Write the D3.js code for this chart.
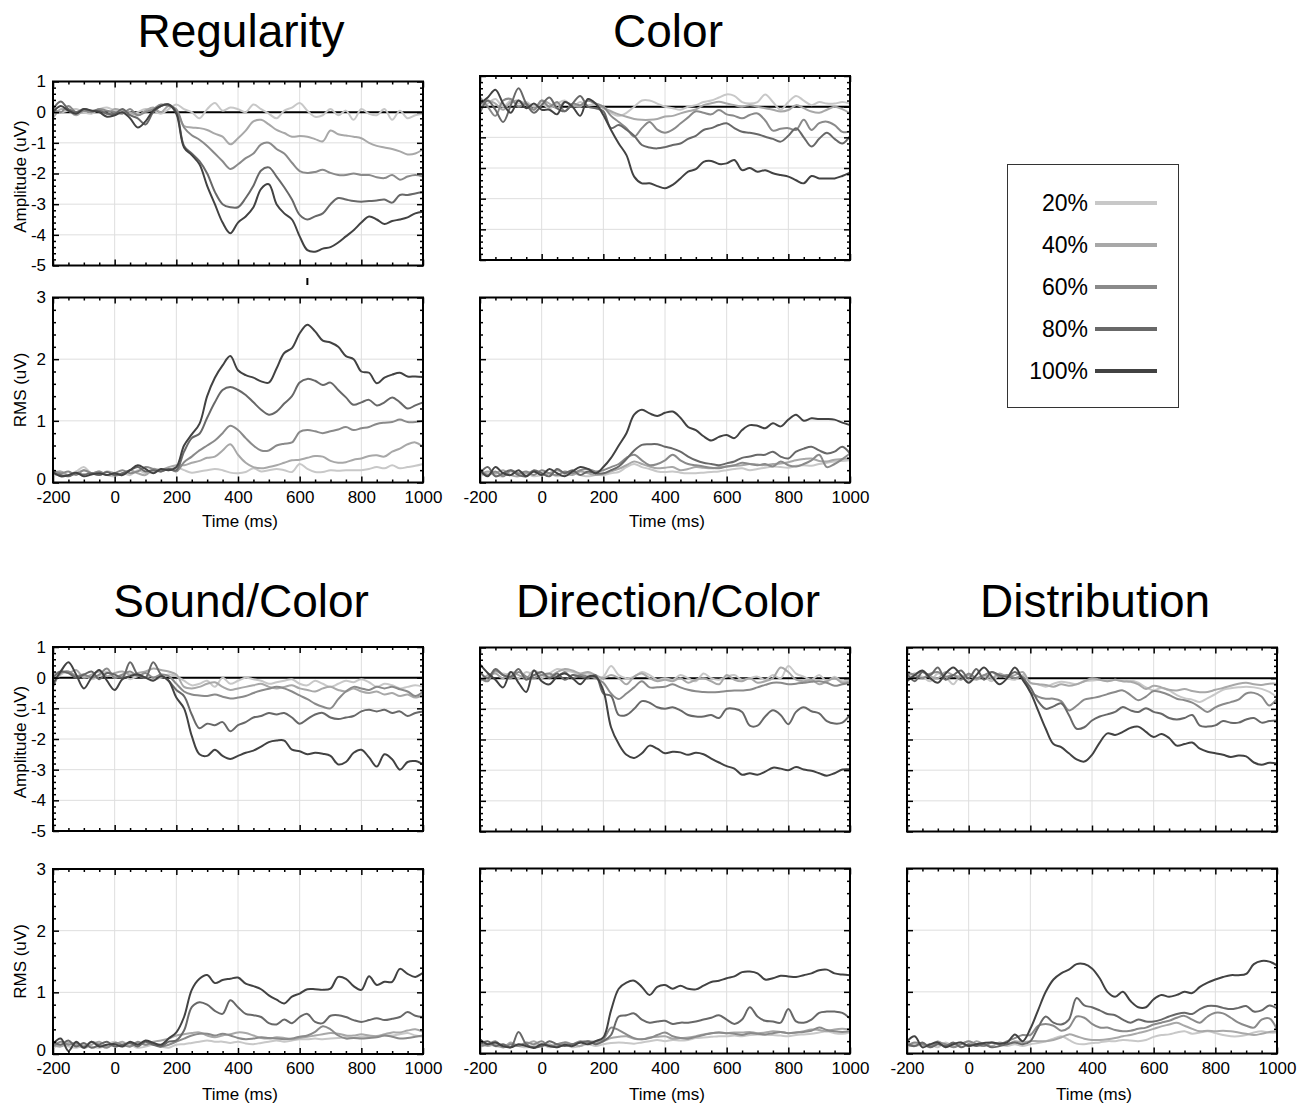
<!DOCTYPE html>
<html>
<head>
<meta charset="utf-8">
<script src="https://cdn.jsdelivr.net/npm/d3@7"></script>
<style>
body { margin: 0; background: #fff; }
svg { font-family: "Liberation Sans", Arial, sans-serif; }
</style>
</head>
<body>
<script>
// sample grid (ms) and labels
var times = d3.range(-200, 1001, 25);
var levels = ["20%", "40%", "60%", "80%", "100%"];
var colors = ["#c8c8c8", "#a8a8a8", "#8a8a8a", "#686868", "#424242"];
var xTicks = [-200, 0, 200, 400, 600, 800, 1000];
var ampTicks = [1, 0, -1, -2, -3, -4, -5];
var rmsTicks = [0, 1, 2, 3];

// ---- Regularity ----
var regAmp20 = [0.1, 0.0, 0.05, 0.1, 0.0, -0.05, 0.1, 0.15, 0.05, 0.0, -0.1, 0.0, 0.1, 0.05, -0.05, 0.1, 0.25,
  0.1, 0.0, -0.2, 0.1, 0.3, 0.05, 0.15, 0.1, 0.0, 0.25, 0.1, -0.05, -0.2, 0.05, 0.15, 0.3,
  0.05, -0.15, -0.1, 0.1, -0.1, 0.05, -0.25, 0.1, -0.05, -0.1, 0.1, -0.25, 0.05, -0.2, -0.1, -0.05];
var regAmp40 = [-0.2, 0.1, 0.05, -0.1, 0.05, 0.0, 0.1, -0.05, 0.1, 0.05, 0.0, -0.1, 0.05, 0.15, 0.0, 0.2, 0.05,
  -0.45, -0.5, -0.52, -0.58, -0.7, -0.8, -1.05, -0.85, -0.6, -0.3, -0.25, -0.4, -0.58, -0.68, -0.8, -0.78,
  -0.8, -0.88, -0.95, -0.6, -0.72, -0.76, -0.8, -0.85, -1.0, -1.1, -1.15, -1.2, -1.28, -1.38, -1.35, -1.2];
var regAmp60 = [0.1, 0.0, 0.2, 0.0, 0.05, 0.0, 0.1, 0.05, 0.0, -0.05, 0.1, -0.1, 0.0, 0.1, 0.25, 0.2, 0.1,
  -0.5, -0.75, -0.9, -1.1, -1.35, -1.6, -1.85, -1.7, -1.5, -1.35, -1.05, -1.0, -1.2, -1.35, -1.65, -1.92,
  -1.98, -1.95, -1.88, -1.98, -2.05, -2.05, -2.0, -2.05, -2.05, -2.12, -2.15, -2.05, -2.2, -2.1, -2.05, -2.1];
var regAmp80 = [0.1, 0.35, 0.1, 0.0, 0.1, 0.05, 0.05, -0.05, -0.05, 0.1, -0.1, -0.2, -0.4, 0.0, 0.2, 0.25, 0.0,
  -1.1, -1.35, -1.6, -2.0, -2.6, -3.0, -3.1, -3.1, -2.8, -2.4, -1.9, -1.8, -2.1, -2.45, -2.85, -3.35,
  -3.5, -3.4, -3.3, -3.0, -2.8, -2.85, -2.9, -2.92, -2.9, -2.88, -2.85, -2.95, -2.7, -2.7, -2.65, -2.6];
var regAmp100 = [0.0, 0.2, 0.05, -0.05, 0.1, 0.05, 0.0, -0.15, -0.1, 0.0, -0.2, -0.5, -0.3, 0.05, 0.2, 0.25, -0.05,
  -1.15, -1.4, -1.7, -2.4, -3.0, -3.6, -3.95, -3.6, -3.4, -3.1, -2.5, -2.35, -3.0, -3.3, -3.5, -4.05,
  -4.5, -4.55, -4.45, -4.4, -4.25, -4.05, -3.85, -3.6, -3.4, -3.5, -3.65, -3.55, -3.5, -3.43, -3.3, -3.25];

var regRms20 = [0.1, 0.15, 0.12, 0.18, 0.25, 0.15, 0.18, 0.12, 0.1, 0.15, 0.12, 0.2, 0.15, 0.18, 0.22, 0.2, 0.25,
  0.2, 0.16, 0.18, 0.2, 0.22, 0.2, 0.16, 0.15, 0.17, 0.23, 0.18, 0.2, 0.22, 0.2, 0.17, 0.3,
  0.22, 0.17, 0.17, 0.2, 0.19, 0.2, 0.2, 0.2, 0.22, 0.25, 0.23, 0.28, 0.23, 0.25, 0.27, 0.3];
var regRms40 = [0.15, 0.18, 0.12, 0.15, 0.2, 0.15, 0.12, 0.18, 0.15, 0.12, 0.2, 0.15, 0.12, 0.22, 0.2, 0.25, 0.28,
  0.28, 0.32, 0.35, 0.4, 0.42, 0.52, 0.62, 0.45, 0.32, 0.25, 0.23, 0.25, 0.28, 0.32, 0.36, 0.37,
  0.4, 0.43, 0.42, 0.35, 0.32, 0.33, 0.37, 0.39, 0.43, 0.44, 0.42, 0.5, 0.55, 0.62, 0.65, 0.58];
var regRms60 = [0.2, 0.15, 0.18, 0.12, 0.2, 0.15, 0.18, 0.12, 0.15, 0.2, 0.15, 0.18, 0.25, 0.22, 0.18, 0.22, 0.18,
  0.33, 0.42, 0.52, 0.6, 0.68, 0.8, 0.92, 0.85, 0.72, 0.6, 0.52, 0.52, 0.6, 0.63, 0.65, 0.82,
  0.85, 0.83, 0.8, 0.83, 0.86, 0.9, 0.85, 0.88, 0.9, 0.95, 0.97, 0.98, 1.02, 0.98, 0.98, 1.0];
var regRms80 = [0.15, 0.12, 0.1, 0.15, 0.13, 0.15, 0.12, 0.17, 0.12, 0.15, 0.2, 0.25, 0.18, 0.2, 0.18, 0.22, 0.2,
  0.5, 0.72, 0.79, 1.05, 1.3, 1.5, 1.55, 1.5, 1.42, 1.3, 1.18, 1.1, 1.15, 1.28, 1.4, 1.62,
  1.68, 1.65, 1.58, 1.62, 1.5, 1.38, 1.26, 1.3, 1.34, 1.25, 1.3, 1.38, 1.3, 1.2, 1.25, 1.3];
var regRms100 = [0.17, 0.1, 0.12, 0.16, 0.1, 0.13, 0.15, 0.12, 0.15, 0.12, 0.2, 0.28, 0.22, 0.15, 0.22, 0.2, 0.25,
  0.6, 0.78, 0.95, 1.4, 1.7, 1.9, 2.05, 1.82, 1.74, 1.7, 1.64, 1.62, 1.85, 2.1, 2.18, 2.42,
  2.56, 2.45, 2.3, 2.27, 2.2, 2.05, 2.0, 1.8, 1.78, 1.61, 1.7, 1.75, 1.78, 1.72, 1.72, 1.71];

// ---- Color ----
var colAmp20 = [-0.1, 0.1, 0.25, 0.0, 0.2, 0.1, 0.15, 0.0, 0.1, -0.05, 0.1, 0.2, 0.0, 0.15, 0.05, 0.1, 0.0,
  -0.2, -0.3, -0.2, 0.0, 0.2, 0.2, 0.1, 0.0, -0.05, -0.1, 0.0, 0.05, 0.15, 0.2, 0.3, 0.4,
  0.35, 0.15, 0.1, 0.15, 0.4, 0.15, -0.1, 0.15, 0.35, 0.2, 0.05, 0.15, 0.1, 0.1, 0.15, 0.1];
var colAmp40 = [0.0, 0.2, 0.1, -0.1, 0.15, 0.2, 0.05, -0.1, 0.2, 0.1, -0.05, 0.15, 0.05, 0.0, 0.2, 0.1, -0.05,
  -0.15, -0.25, -0.33, -0.4, -0.43, -0.43, -0.4, -0.32, -0.3, -0.22, -0.15, -0.09, 0.05, 0.11, 0.16, 0.1,
  0.05, 0.0, 0.05, 0.0, -0.05, -0.1, -0.16, -0.11, 0.05, -0.05, -0.16, -0.2, -0.1, 0.0, -0.08, -0.22];
var colAmp60 = [0.3, 0.0, -0.3, 0.2, 0.25, 0.0, 0.1, -0.1, 0.2, 0.0, 0.15, -0.15, 0.1, 0.05, 0.2, 0.1, 0.0,
  -0.3, -0.5, -0.7, -0.98, -0.7, -0.5, -0.75, -0.85, -0.75, -0.55, -0.35, -0.15, -0.2, -0.25, -0.11, -0.25,
  -0.3, -0.38, -0.27, -0.22, -0.45, -0.78, -0.72, -0.7, -0.76, -0.43, -0.76, -0.54, -0.49, -0.6, -0.82, -0.82];
var colAmp80 = [-0.2, 0.2, -0.1, -0.5, 0.05, 0.6, 0.1, -0.2, 0.05, 0.3, -0.05, -0.15, 0.1, 0.35, 0.0, -0.05, -0.15,
  -0.7, -0.6, -0.75, -0.95, -1.25, -1.33, -1.36, -1.32, -1.25, -1.2, -1.05, -0.95, -0.76, -0.7, -0.6, -0.54,
  -0.7, -0.82, -0.85, -0.9, -0.98, -1.05, -1.14, -0.95, -0.7, -1.0, -1.3, -1.05, -0.85, -1.05, -1.2, -0.96];
var colAmp100 = [0.1, 0.3, 0.55, 0.1, -0.2, 0.2, -0.05, 0.1, -0.1, -0.1, -0.25, 0.15, 0.0, -0.3, 0.25, 0.1, -0.27,
  -0.76, -1.2, -1.58, -2.28, -2.5, -2.5, -2.59, -2.66, -2.55, -2.34, -2.12, -2.04, -1.8, -1.77, -1.87, -1.85,
  -1.74, -2.07, -2.0, -2.12, -2.07, -2.17, -2.23, -2.28, -2.4, -2.5, -2.26, -2.34, -2.34, -2.34, -2.26, -2.15];

var colRms20 = [0.1, 0.15, 0.12, 0.1, 0.18, 0.12, 0.15, 0.1, 0.12, 0.15, 0.1, 0.12, 0.15, 0.12, 0.1, 0.12, 0.12,
  0.15, 0.17, 0.25, 0.3, 0.25, 0.22, 0.18, 0.17, 0.18, 0.16, 0.15, 0.15, 0.16, 0.17, 0.18, 0.2,
  0.22, 0.23, 0.2, 0.22, 0.24, 0.26, 0.25, 0.24, 0.27, 0.28, 0.27, 0.3, 0.32, 0.34, 0.35, 0.36];
var colRms40 = [0.12, 0.18, 0.15, 0.2, 0.12, 0.1, 0.15, 0.18, 0.12, 0.15, 0.2, 0.15, 0.12, 0.18, 0.15, 0.12, 0.14,
  0.18, 0.22, 0.28, 0.34, 0.3, 0.26, 0.23, 0.24, 0.25, 0.2, 0.22, 0.25, 0.24, 0.23, 0.25, 0.26,
  0.27, 0.28, 0.3, 0.29, 0.28, 0.3, 0.31, 0.33, 0.36, 0.38, 0.39, 0.35, 0.34, 0.37, 0.38, 0.39];
var colRms60 = [0.22, 0.12, 0.18, 0.1, 0.2, 0.15, 0.18, 0.12, 0.2, 0.15, 0.12, 0.18, 0.15, 0.2, 0.22, 0.18, 0.2,
  0.25, 0.3, 0.4, 0.45, 0.36, 0.28, 0.3, 0.36, 0.45, 0.36, 0.3, 0.28, 0.26, 0.24, 0.23, 0.26,
  0.28, 0.32, 0.3, 0.28, 0.3, 0.26, 0.34, 0.28, 0.26, 0.3, 0.36, 0.45, 0.25, 0.3, 0.38, 0.47];
var colRms80 = [0.15, 0.25, 0.1, 0.15, 0.2, 0.12, 0.1, 0.2, 0.15, 0.1, 0.22, 0.15, 0.2, 0.12, 0.18, 0.15, 0.15,
  0.2, 0.26, 0.38, 0.52, 0.61, 0.62, 0.62, 0.58, 0.55, 0.5, 0.42, 0.36, 0.32, 0.3, 0.28, 0.31,
  0.34, 0.4, 0.42, 0.45, 0.45, 0.5, 0.42, 0.39, 0.5, 0.55, 0.58, 0.52, 0.47, 0.5, 0.58, 0.47];
var colRms100 = [0.2, 0.1, 0.25, 0.15, 0.12, 0.2, 0.1, 0.18, 0.12, 0.22, 0.15, 0.1, 0.18, 0.25, 0.22, 0.15, 0.25,
  0.4, 0.6, 0.8, 1.1, 1.18, 1.12, 1.08, 1.13, 1.15, 1.05, 0.9, 0.85, 0.75, 0.68, 0.74, 0.77,
  0.72, 0.85, 0.93, 0.92, 0.88, 0.96, 0.91, 1.02, 1.1, 1.0, 1.04, 1.03, 1.03, 1.02, 0.97, 0.93];

// ---- Sound/Color ----
var scAmp20 = [-0.2, 0.1, 0.2, 0.05, 0.1, -0.05, 0.05, 0.2, 0.0, 0.1, -0.05, 0.05, 0.0, -0.05, 0.0, 0.1, 0.05,
  -0.1, -0.25, -0.2, -0.1, -0.3, 0.0, -0.2, -0.1, 0.0, -0.05, -0.1, -0.2, -0.15, -0.1, -0.05, -0.2,
  -0.25, -0.1, -0.2, -0.3, -0.2, -0.1, -0.15, -0.05, -0.15, -0.3, -0.2, -0.25, -0.35, -0.3, -0.25, -0.3];
var scAmp40 = [0.1, 0.2, 0.15, 0.25, 0.0, 0.1, 0.2, 0.05, 0.15, 0.2, 0.1, 0.15, 0.2, 0.3, 0.25, 0.2, 0.1,
  -0.3, -0.35, -0.3, -0.2, -0.15, -0.3, -0.4, -0.35, -0.3, -0.25, -0.2, -0.3, -0.35, -0.3, -0.25, -0.35,
  -0.4, -0.45, -0.35, -0.3, -0.4, -0.45, -0.35, -0.45, -0.5, -0.45, -0.55, -0.5, -0.6, -0.55, -0.65, -0.55];
var scAmp60 = [-0.3, 0.15, 0.2, 0.05, 0.1, 0.0, 0.1, 0.3, 0.0, 0.1, 0.2, 0.05, 0.15, 0.0, 0.1, 0.05, -0.2,
  -0.45, -0.55, -0.58, -0.6, -0.55, -0.62, -0.68, -0.65, -0.6, -0.5, -0.42, -0.36, -0.3, -0.35, -0.45, -0.58,
  -0.7, -0.85, -0.95, -1.0, -0.7, -0.45, -0.3, -0.35, -0.4, -0.3, -0.35, -0.3, -0.38, -0.45, -0.6, -0.45];
var scAmp80 = [0.0, 0.2, 0.15, 0.0, 0.1, 0.2, -0.05, 0.15, 0.1, 0.0, 0.5, 0.1, 0.0, 0.5, 0.1, -0.1, -0.4,
  -0.6, -1.2, -1.65, -1.5, -1.55, -1.45, -1.75, -1.55, -1.45, -1.3, -1.25, -1.15, -1.2, -1.15, -1.3, -1.5,
  -1.35, -1.2, -1.15, -1.3, -1.35, -1.3, -1.25, -1.1, -1.05, -1.1, -1.05, -1.15, -1.1, -1.25, -1.15, -1.1];
var scAmp100 = [-0.2, 0.2, 0.5, 0.1, -0.35, 0.0, 0.25, -0.1, -0.4, -0.05, 0.05, 0.1, 0.0, -0.1, 0.05, -0.1, -0.65,
  -1.0, -1.9, -2.5, -2.55, -2.35, -2.55, -2.65, -2.55, -2.45, -2.38, -2.25, -2.1, -2.05, -2.05, -2.35, -2.4,
  -2.5, -2.45, -2.48, -2.55, -2.83, -2.75, -2.45, -2.35, -2.6, -2.9, -2.5, -2.66, -3.0, -2.75, -2.72, -2.83];

var scRms20 = [0.1, 0.15, 0.12, 0.1, 0.15, 0.12, 0.1, 0.15, 0.2, 0.12, 0.15, 0.1, 0.12, 0.15, 0.12, 0.1, 0.15,
  0.16, 0.18, 0.2, 0.22, 0.2, 0.2, 0.18, 0.2, 0.17, 0.16, 0.18, 0.2, 0.22, 0.2, 0.22, 0.24,
  0.24, 0.25, 0.24, 0.25, 0.26, 0.27, 0.26, 0.28, 0.28, 0.29, 0.3, 0.3, 0.32, 0.34, 0.3, 0.28];
var scRms40 = [0.15, 0.12, 0.18, 0.15, 0.1, 0.15, 0.2, 0.12, 0.15, 0.2, 0.12, 0.18, 0.15, 0.2, 0.22, 0.25, 0.3,
  0.32, 0.34, 0.35, 0.3, 0.27, 0.3, 0.32, 0.35, 0.34, 0.3, 0.26, 0.25, 0.27, 0.26, 0.24, 0.26,
  0.28, 0.3, 0.32, 0.34, 0.33, 0.3, 0.3, 0.32, 0.3, 0.29, 0.32, 0.35, 0.35, 0.38, 0.4, 0.36];
var scRms60 = [0.12, 0.2, 0.15, 0.18, 0.12, 0.2, 0.15, 0.1, 0.18, 0.15, 0.12, 0.2, 0.15, 0.18, 0.12, 0.15, 0.2,
  0.25, 0.3, 0.33, 0.33, 0.3, 0.33, 0.3, 0.26, 0.24, 0.25, 0.27, 0.26, 0.25, 0.24, 0.25, 0.28,
  0.3, 0.36, 0.45, 0.4, 0.3, 0.25, 0.26, 0.25, 0.26, 0.27, 0.3, 0.28, 0.25, 0.26, 0.28, 0.3];
var scRms80 = [0.2, 0.15, 0.22, 0.12, 0.18, 0.1, 0.15, 0.2, 0.12, 0.15, 0.18, 0.12, 0.2, 0.15, 0.12, 0.2, 0.22,
  0.38, 0.76, 0.84, 0.8, 0.7, 0.65, 0.87, 0.76, 0.65, 0.63, 0.6, 0.5, 0.48, 0.56, 0.5, 0.6,
  0.65, 0.52, 0.5, 0.62, 0.63, 0.6, 0.55, 0.52, 0.55, 0.58, 0.55, 0.57, 0.6, 0.68, 0.62, 0.6];
var scRms100 = [0.16, 0.25, 0.05, 0.2, 0.1, 0.2, 0.12, 0.15, 0.16, 0.12, 0.2, 0.15, 0.22, 0.18, 0.15, 0.25, 0.35,
  0.6, 1.04, 1.22, 1.28, 1.15, 1.2, 1.22, 1.24, 1.14, 1.1, 1.05, 0.95, 0.88, 0.82, 0.93, 0.98,
  1.05, 1.05, 1.04, 1.06, 1.25, 1.22, 1.1, 1.04, 1.26, 1.12, 1.17, 1.17, 1.38, 1.3, 1.25, 1.32];

// ---- Direction/Color ----
var dcAmp20 = [0.0, 0.05, 0.2, 0.15, 0.1, 0.0, 0.2, 0.1, 0.0, 0.15, 0.3, 0.25, 0.2, 0.1, 0.15, 0.0, 0.05,
  0.4, 0.1, 0.0, 0.05, 0.2, 0.1, -0.05, 0.0, -0.05, 0.1, 0.0, -0.1, 0.15, 0.0, -0.05, 0.05,
  0.1, -0.05, 0.0, 0.05, -0.05, 0.1, 0.0, 0.4, 0.15, 0.05, -0.05, 0.1, -0.1, 0.05, -0.1, -0.05];
var dcAmp40 = [-0.1, 0.1, 0.15, 0.0, 0.2, 0.1, 0.0, 0.25, 0.1, 0.05, 0.2, 0.3, 0.25, 0.15, 0.2, 0.1, 0.0,
  0.1, 0.0, -0.2, 0.05, 0.15, 0.0, -0.1, -0.05, -0.1, 0.0, -0.15, -0.05, 0.0, -0.1, -0.2, 0.1,
  -0.05, -0.1, 0.0, -0.15, -0.1, 0.0, 0.35, 0.2, -0.05, -0.1, -0.05, -0.2, -0.1, 0.0, -0.15, -0.1];
var dcAmp60 = [0.0, -0.1, 0.25, 0.1, 0.0, 0.2, 0.05, 0.0, 0.1, 0.15, 0.05, 0.2, 0.0, 0.1, 0.05, 0.0, -0.15,
  -0.5, -0.68, -0.5, -0.3, -0.1, -0.3, -0.3, -0.28, -0.2, -0.3, -0.38, -0.43, -0.45, -0.46, -0.45, -0.42,
  -0.4, -0.4, -0.38, -0.3, -0.22, -0.15, -0.15, -0.2, -0.18, -0.15, -0.12, -0.1, -0.15, -0.25, -0.2, -0.15];
var dcAmp80 = [0.2, 0.0, 0.3, 0.1, 0.05, 0.3, -0.05, 0.1, 0.2, 0.0, 0.15, -0.05, 0.1, 0.05, 0.0, 0.1, -0.5,
  -0.58, -1.2, -1.2, -1.0, -0.75, -0.8, -0.95, -1.0, -0.95, -1.05, -1.2, -1.25, -1.25, -1.2, -1.3, -1.0,
  -1.0, -1.1, -1.55, -1.55, -1.25, -1.05, -1.2, -1.5, -1.1, -0.95, -1.08, -1.15, -1.4, -1.48, -1.45, -1.2];
var dcAmp100 = [0.45, 0.17, -0.05, -0.3, 0.2, -0.15, -0.45, 0.25, -0.1, -0.2, 0.05, 0.15, 0.0, -0.2, 0.05, 0.05, -0.4,
  -1.6, -2.15, -2.5, -2.6, -2.45, -2.2, -2.3, -2.45, -2.4, -2.42, -2.5, -2.43, -2.48, -2.62, -2.75, -2.87,
  -2.95, -3.15, -3.1, -3.15, -3.05, -2.92, -2.95, -3.0, -2.9, -2.98, -3.02, -3.1, -3.18, -3.1, -2.98, -2.97];

var dcRms20 = [0.1, 0.15, 0.12, 0.1, 0.15, 0.12, 0.1, 0.12, 0.15, 0.1, 0.12, 0.15, 0.1, 0.12, 0.15, 0.12, 0.15,
  0.17, 0.18, 0.17, 0.16, 0.18, 0.2, 0.22, 0.2, 0.22, 0.21, 0.22, 0.25, 0.26, 0.27, 0.28, 0.28,
  0.29, 0.28, 0.3, 0.31, 0.3, 0.3, 0.29, 0.28, 0.3, 0.31, 0.32, 0.34, 0.36, 0.33, 0.32, 0.34];
var dcRms40 = [0.18, 0.12, 0.15, 0.1, 0.18, 0.12, 0.15, 0.2, 0.12, 0.15, 0.1, 0.18, 0.15, 0.12, 0.2, 0.18, 0.2,
  0.25, 0.27, 0.28, 0.24, 0.23, 0.26, 0.27, 0.28, 0.24, 0.25, 0.26, 0.28, 0.31, 0.33, 0.34, 0.33,
  0.34, 0.34, 0.35, 0.33, 0.34, 0.36, 0.35, 0.33, 0.34, 0.36, 0.39, 0.38, 0.36, 0.39, 0.4, 0.39];
var dcRms60 = [0.12, 0.15, 0.2, 0.1, 0.15, 0.12, 0.18, 0.15, 0.2, 0.12, 0.15, 0.18, 0.15, 0.2, 0.18, 0.2, 0.23,
  0.42, 0.38, 0.31, 0.25, 0.23, 0.25, 0.3, 0.34, 0.28, 0.25, 0.24, 0.27, 0.3, 0.33, 0.34, 0.33,
  0.32, 0.3, 0.33, 0.32, 0.31, 0.33, 0.35, 0.33, 0.34, 0.35, 0.37, 0.42, 0.38, 0.36, 0.35, 0.36];
var dcRms80 = [0.15, 0.2, 0.12, 0.15, 0.1, 0.35, 0.15, 0.1, 0.12, 0.2, 0.15, 0.12, 0.15, 0.18, 0.2, 0.15, 0.2,
  0.3, 0.6, 0.62, 0.65, 0.55, 0.5, 0.52, 0.53, 0.48, 0.5, 0.5, 0.52, 0.55, 0.58, 0.62, 0.55,
  0.48, 0.55, 0.75, 0.6, 0.53, 0.52, 0.5, 0.72, 0.52, 0.5, 0.55, 0.66, 0.68, 0.68, 0.66, 0.57];
var dcRms100 = [0.23, 0.15, 0.18, 0.12, 0.1, 0.15, 0.12, 0.09, 0.15, 0.12, 0.1, 0.14, 0.12, 0.18, 0.15, 0.2, 0.26,
  0.7, 1.05, 1.15, 1.18, 1.08, 0.95, 1.08, 1.11, 1.05, 1.1, 1.05, 1.04, 1.1, 1.16, 1.18, 1.22,
  1.25, 1.32, 1.33, 1.3, 1.2, 1.22, 1.26, 1.25, 1.24, 1.27, 1.3, 1.35, 1.36, 1.3, 1.28, 1.27];

// ---- Distribution ----
var dAmp20 = [-0.05, 0.1, 0.05, -0.1, 0.15, 0.05, -0.2, 0.1, -0.1, 0.0, 0.05, -0.1, 0.1, 0.0, -0.05, 0.1, -0.15,
  -0.2, -0.28, -0.18, -0.12, -0.15, -0.2, -0.1, -0.08, -0.05, -0.1, -0.05, -0.1, -0.08, -0.15, -0.3, -0.4,
  -0.32, -0.4, -0.55, -0.65, -0.7, -0.78, -0.65, -0.52, -0.38, -0.33, -0.3, -0.28, -0.3, -0.35, -0.45, -0.62];
var dAmp40 = [0.1, 0.15, 0.2, 0.05, 0.0, 0.2, 0.1, 0.05, 0.1, -0.05, 0.1, 0.0, 0.15, 0.05, 0.1, 0.2, -0.15,
  -0.2, -0.22, -0.28, -0.2, -0.25, -0.2, -0.1, 0.0, -0.05, -0.1, -0.05, -0.1, -0.12, -0.2, -0.35, -0.25,
  -0.3, -0.38, -0.4, -0.35, -0.42, -0.46, -0.45, -0.38, -0.32, -0.25, -0.18, -0.15, -0.2, -0.22, -0.18, -0.18];
var dAmp60 = [0.2, 0.1, 0.0, 0.15, 0.2, 0.05, 0.1, -0.05, 0.15, 0.0, 0.1, 0.2, 0.05, 0.1, 0.0, 0.05, -0.45,
  -0.6, -0.67, -0.67, -0.75, -1.05, -0.9, -0.7, -0.65, -0.6, -0.52, -0.45, -0.4, -0.55, -0.72, -0.6, -0.42,
  -0.46, -0.55, -0.67, -0.72, -0.8, -0.95, -1.1, -0.95, -0.85, -0.78, -0.7, -0.5, -0.48, -0.6, -0.89, -0.67];
var dAmp80 = [0.15, -0.1, 0.2, 0.1, 0.35, -0.05, 0.1, 0.25, 0.0, 0.3, -0.05, 0.2, 0.1, 0.05, 0.2, 0.0, -0.3,
  -0.75, -1.0, -0.92, -0.82, -1.2, -1.65, -1.6, -1.38, -1.25, -1.18, -1.1, -0.94, -1.05, -1.1, -0.98, -1.1,
  -1.16, -1.3, -1.35, -1.3, -1.2, -1.55, -1.58, -1.54, -1.4, -1.45, -1.45, -1.35, -1.3, -1.45, -1.4, -1.38];
var dAmp100 = [-0.1, 0.1, 0.25, 0.0, -0.15, 0.15, 0.35, 0.1, -0.15, 0.1, 0.35, 0.05, -0.2, 0.0, 0.35, -0.05, -0.45,
  -1.05, -1.65, -2.15, -2.25, -2.45, -2.65, -2.72, -2.5, -2.1, -1.8, -1.85, -1.75, -1.62, -1.58, -1.75, -1.92,
  -1.82, -1.95, -2.2, -2.15, -2.1, -2.3, -2.4, -2.45, -2.5, -2.57, -2.52, -2.55, -2.75, -2.82, -2.76, -2.78];

var dRms20 = [0.1, 0.15, 0.12, 0.15, 0.1, 0.18, 0.12, 0.15, 0.2, 0.15, 0.12, 0.18, 0.15, 0.12, 0.15, 0.12, 0.15,
  0.17, 0.2, 0.24, 0.28, 0.22, 0.16, 0.15, 0.17, 0.18, 0.2, 0.2, 0.22, 0.21, 0.2, 0.22, 0.27,
  0.3, 0.31, 0.34, 0.36, 0.32, 0.34, 0.36, 0.33, 0.3, 0.28, 0.28, 0.3, 0.34, 0.36, 0.34, 0.34];
var dRms40 = [0.18, 0.12, 0.15, 0.1, 0.2, 0.12, 0.15, 0.18, 0.12, 0.2, 0.15, 0.12, 0.18, 0.15, 0.2, 0.18, 0.2,
  0.2, 0.2, 0.22, 0.26, 0.31, 0.28, 0.24, 0.22, 0.22, 0.23, 0.25, 0.28, 0.3, 0.33, 0.36, 0.4,
  0.44, 0.47, 0.5, 0.45, 0.4, 0.36, 0.37, 0.36, 0.37, 0.36, 0.34, 0.32, 0.3, 0.32, 0.35, 0.36];
var dRms60 = [0.12, 0.18, 0.15, 0.12, 0.18, 0.15, 0.1, 0.15, 0.2, 0.15, 0.12, 0.18, 0.15, 0.2, 0.25, 0.3, 0.3,
  0.45, 0.48, 0.45, 0.37, 0.42, 0.6, 0.58, 0.48, 0.42, 0.42, 0.38, 0.36, 0.37, 0.4, 0.42, 0.47,
  0.5, 0.53, 0.58, 0.61, 0.55, 0.5, 0.6, 0.66, 0.65, 0.58, 0.5, 0.45, 0.42, 0.55, 0.57, 0.39];
var dRms80 = [0.15, 0.12, 0.18, 0.1, 0.15, 0.12, 0.18, 0.1, 0.15, 0.12, 0.15, 0.1, 0.12, 0.15, 0.18, 0.15, 0.2,
  0.42, 0.6, 0.5, 0.47, 0.55, 0.9, 0.78, 0.75, 0.7, 0.64, 0.62, 0.55, 0.5, 0.55, 0.52, 0.52,
  0.55, 0.6, 0.64, 0.66, 0.64, 0.72, 0.77, 0.77, 0.74, 0.72, 0.74, 0.77, 0.68, 0.7, 0.78, 0.73];
var dRms100 = [0.2, 0.28, 0.1, 0.15, 0.18, 0.1, 0.15, 0.18, 0.12, 0.15, 0.17, 0.18, 0.16, 0.18, 0.31, 0.2, 0.4,
  0.7, 1.0, 1.2, 1.3, 1.36, 1.45, 1.45, 1.38, 1.22, 1.0, 0.92, 1.0, 0.85, 0.75, 0.75, 0.88,
  0.95, 0.92, 0.95, 1.0, 0.98, 1.08, 1.15, 1.2, 1.24, 1.27, 1.27, 1.29, 1.45, 1.5, 1.49, 1.43];

var panels = [
  { title: "Regularity", left: 53, titleY: 47, ampTop: 81.5, rmsTop: 297.5, axisY: 527, yLabels: true,
    amp: [regAmp20, regAmp40, regAmp60, regAmp80, regAmp100], rms: [regRms20, regRms40, regRms60, regRms80, regRms100] },
  { title: "Color", left: 480, titleY: 47, ampTop: 76, rmsTop: 297.5, axisY: 527, yLabels: false,
    amp: [colAmp20, colAmp40, colAmp60, colAmp80, colAmp100], rms: [colRms20, colRms40, colRms60, colRms80, colRms100] },
  { title: "Sound/Color", left: 53, titleY: 617, ampTop: 647, rmsTop: 869, axisY: 1100, yLabels: true,
    amp: [scAmp20, scAmp40, scAmp60, scAmp80, scAmp100], rms: [scRms20, scRms40, scRms60, scRms80, scRms100] },
  { title: "Direction/Color", left: 480, titleY: 617, ampTop: 647.5, rmsTop: 868.5, axisY: 1100, yLabels: false,
    amp: [dcAmp20, dcAmp40, dcAmp60, dcAmp80, dcAmp100], rms: [dcRms20, dcRms40, dcRms60, dcRms80, dcRms100] },
  { title: "Distribution", left: 907, titleY: 617, ampTop: 647.5, rmsTop: 868.5, axisY: 1100, yLabels: false,
    amp: [dAmp20, dAmp40, dAmp60, dAmp80, dAmp100], rms: [dRms20, dRms40, dRms60, dRms80, dRms100] }
];

var pw = 370, ampH = 184, rmsH = 185;

var svg = d3.select("body").append("svg")
    .attr("width", 1311)
    .attr("height", 1104);

var xMinor = d3.range(-200, 1001, 50).filter(d => d % 200 !== 0);

function drawPlot(g, series, yDomain, h, yMajor, showY, showX, isAmp) {
    var x = d3.scaleLinear().domain([-200, 1000]).range([0, pw]);
    var y = d3.scaleLinear().domain(yDomain).range([h, 0]);
    var yMinor = d3.range(yDomain[0] * 5, yDomain[1] * 5 + 1).map(d => d / 5).filter(d => Math.abs(d - Math.round(d)) > 0.01);

    // grid
    g.selectAll(".vgrid").data([0, 200, 400, 600, 800]).enter().append("line")
        .attr("x1", d => x(d)).attr("x2", d => x(d))
        .attr("y1", 0).attr("y2", h)
        .style("stroke", "#dedede").style("stroke-width", 1);
    g.selectAll(".hgrid").data(yMajor.filter(d => d !== yDomain[0] && d !== yDomain[1] && !(isAmp && d === 0)))
        .enter().append("line")
        .attr("x1", 0).attr("x2", pw)
        .attr("y1", d => y(d)).attr("y2", d => y(d))
        .style("stroke", "#dedede").style("stroke-width", 1);

    if (isAmp) {
        g.append("line")
            .attr("x1", 0).attr("x2", pw)
            .attr("y1", y(0)).attr("y2", y(0))
            .style("stroke", "black").style("stroke-width", 2);
    }

    // curves
    var line = d3.line()
        .defined((d, i) => i < times.length)
        .x((d, i) => x(times[i]))
        .y(d => y(d))
        .curve(d3.curveCatmullRom.alpha(0.5));

    g.selectAll(".series").data(series).enter().append("path")
        .attr("d", d => line(d))
        .style("fill", "none")
        .style("stroke", (d, i) => colors[i])
        .style("stroke-width", 2);

    // inward ticks on all four sides
    function ticks(axis, tr) {
        var a = g.append("g").attr("transform", tr).call(axis);
        a.select(".domain").remove();
        a.selectAll("line").style("stroke", "black").style("stroke-width", 1.5);
    }
    ticks(d3.axisBottom(x).tickValues(xTicks).tickSize(-6).tickFormat(""), "translate(0," + h + ")");
    ticks(d3.axisBottom(x).tickValues(xMinor).tickSize(-3).tickFormat(""), "translate(0," + h + ")");
    ticks(d3.axisTop(x).tickValues(xTicks).tickSize(-6).tickFormat(""), "translate(0,0)");
    ticks(d3.axisTop(x).tickValues(xMinor).tickSize(-3).tickFormat(""), "translate(0,0)");
    ticks(d3.axisLeft(y).tickValues(yMajor).tickSize(-6).tickFormat(""), "translate(0,0)");
    ticks(d3.axisLeft(y).tickValues(yMinor).tickSize(-3).tickFormat(""), "translate(0,0)");
    ticks(d3.axisRight(y).tickValues(yMajor).tickSize(-6).tickFormat(""), "translate(" + pw + ",0)");
    ticks(d3.axisRight(y).tickValues(yMinor).tickSize(-3).tickFormat(""), "translate(" + pw + ",0)");

    g.append("rect")
        .attr("width", pw).attr("height", h)
        .style("fill", "none").style("stroke", "black").style("stroke-width", 2);

    if (showY) {
        var ya = g.append("g").call(d3.axisLeft(y).tickValues(yMajor).tickSize(0).tickPadding(7).tickFormat(d => String(d)));
        ya.select(".domain").remove();
        ya.selectAll("text").style("font-size", "17px").style("fill", "black").style("font-family", "Liberation Sans, Arial, sans-serif");
        // the "0" on the RMS axis sits a little above the corner
        if (!isAmp) ya.selectAll("text").filter(d => d === 0).attr("dy", "0.1em");
    }
    if (showX) {
        var xa = g.append("g").attr("transform", "translate(0," + h + ")")
            .call(d3.axisBottom(x).tickValues(xTicks).tickSize(0).tickPadding(8).tickFormat(d => String(d)));
        xa.select(".domain").remove();
        xa.selectAll("text").style("font-size", "17px").style("fill", "black").style("font-family", "Liberation Sans, Arial, sans-serif");
    }
    return x;
}

panels.forEach(function(p) {
    svg.append("text")
        .attr("x", p.left + pw / 2 + 3)
        .attr("y", p.titleY)
        .attr("text-anchor", "middle")
        .style("font-size", "46px")
        .text(p.title);

    var ga = svg.append("g").attr("transform", "translate(" + p.left + "," + p.ampTop + ")");
    var xs = drawPlot(ga, p.amp, [-5, 1], ampH, ampTicks, p.yLabels, false, true);

    var gr = svg.append("g").attr("transform", "translate(" + p.left + "," + p.rmsTop + ")");
    drawPlot(gr, p.rms, [0, 3], rmsH, rmsTicks, p.yLabels, true, false);

    if (p.yLabels) {
        svg.append("text")
            .attr("transform", "translate(26," + (p.ampTop + ampH / 2 + 3) + ") rotate(-90)")
            .attr("text-anchor", "middle")
            .style("font-size", "17px")
            .text("Amplitude (uV)");
        svg.append("text")
            .attr("transform", "translate(26," + (p.rmsTop + rmsH / 2) + ") rotate(-90)")
            .attr("text-anchor", "middle")
            .style("font-size", "17px")
            .text("RMS (uV)");
    }

    svg.append("text")
        .attr("x", p.left + pw / 2 + 2)
        .attr("y", p.axisY)
        .attr("text-anchor", "middle")
        .style("font-size", "17px")
        .text("Time (ms)");

    // stray mark under the first amplitude plot
    if (p.title === "Regularity") {
        svg.append("line")
            .attr("x1", p.left + xs(625)).attr("x2", p.left + xs(625))
            .attr("y1", 278).attr("y2", 285)
            .style("stroke", "black").style("stroke-width", 2);
    }
});

// legend
var legend = svg.append("g");
legend.append("rect")
    .attr("x", 1007.5).attr("y", 164.5)
    .attr("width", 171).attr("height", 243)
    .style("fill", "none").style("stroke", "#333").style("stroke-width", 1);

var ly = d3.scalePoint().domain(levels).range([203, 371]);
legend.selectAll(".item").data(levels).enter().append("line")
    .attr("x1", 1095).attr("x2", 1157)
    .attr("y1", d => ly(d)).attr("y2", d => ly(d))
    .style("stroke", (d, i) => colors[i]).style("stroke-width", 4);
legend.selectAll(".lab").data(levels).enter().append("text")
    .attr("x", 1088).attr("y", d => ly(d))
    .attr("dy", "0.35em")
    .attr("text-anchor", "end")
    .style("font-size", "23px")
    .text(d => d);
</script>
</body>
</html>
